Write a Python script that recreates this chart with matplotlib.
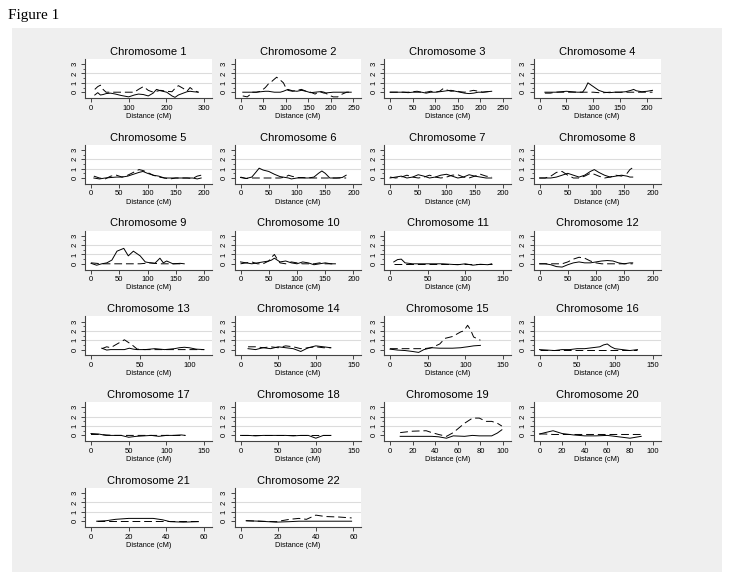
import matplotlib.pyplot as plt
from matplotlib.patches import Rectangle

plt.rcParams['font.family'] = ['Liberation Sans', 'DejaVu Sans']

FIG_W, FIG_H, DPI = 736, 579, 100

chromosomes = list(range(1, 23))
x_tick_max = [300, 250, 250, 200, 200, 200, 200, 200, 200, 200, 150, 200,
              100, 150, 150, 150, 150, 150, 100, 100, 60, 60]
x_tick_step = [100, 50, 50, 50, 50, 50, 50, 50, 50, 50, 50, 50,
               50, 50, 50, 50, 50, 50, 20, 20, 20, 20]

# distance (cM) per chromosome
distance = [
    [10, 18, 25, 32, 40, 52, 65, 80, 100, 115, 126, 139, 152, 165, 174, 185, 201, 215, 223, 232, 245, 255, 263, 272, 285],
    [5, 15, 20, 25, 35, 45, 55, 62, 68, 75, 80, 88, 95, 100, 105, 115, 125, 135, 145, 155, 165, 175, 185, 195, 205, 215, 225, 235, 245],
    [0, 10, 20, 30, 40, 50, 60, 70, 80, 90, 100, 110, 118, 125, 135, 145, 155, 165, 175, 185, 195, 205, 215, 225],
    [10, 20, 30, 40, 50, 60, 70, 80, 85, 90, 95, 100, 110, 120, 130, 140, 150, 160, 170, 175, 180, 190, 200, 210],
    [5, 15, 25, 35, 45, 55, 65, 75, 85, 92, 100, 110, 120, 130, 140, 150, 160, 170, 180, 188, 195],
    [0, 10, 20, 27, 33, 40, 50, 60, 70, 80, 85, 90, 100, 110, 120, 130, 138, 144, 150, 158, 170, 180, 187],
    [0, 10, 20, 30, 40, 50, 60, 70, 80, 90, 100, 110, 120, 130, 140, 150, 160, 170, 180],
    [0, 10, 20, 30, 40, 50, 60, 70, 80, 90, 97, 105, 115, 125, 135, 145, 155, 160, 165],
    [0, 10, 19, 28, 37, 46, 52, 58, 66, 75, 87, 96, 105, 113, 122, 128, 134, 145, 158, 165],
    [0, 10, 20, 30, 40, 50, 55, 60, 65, 70, 80, 90, 100, 110, 120, 130, 140, 150, 160, 168],
    [5, 10, 15, 20, 30, 40, 50, 60, 70, 80, 90, 100, 110, 120, 130, 135],
    [0, 10, 20, 30, 40, 50, 60, 70, 80, 90, 100, 110, 120, 130, 140, 150, 160, 165],
    [11, 16, 20, 24, 29, 34, 39, 43, 47, 55, 65, 75, 85, 90, 95, 100, 107, 115],
    [10, 20, 30, 40, 50, 60, 70, 80, 90, 100, 110, 120],
    [0, 10, 20, 30, 38, 45, 55, 66, 73, 83, 94, 98, 103, 107, 111, 120],
    [0, 10, 20, 30, 40, 50, 60, 70, 80, 85, 90, 95, 100, 110, 120, 130],
    [0, 10, 20, 30, 40, 50, 60, 70, 80, 90, 100, 110, 120, 125],
    [0, 10, 20, 30, 40, 50, 60, 70, 80, 90, 100, 110, 120],
    [9, 20, 32, 37, 43, 50, 56, 66, 73, 79, 85, 90, 95, 99],
    [0, 5, 12, 20, 30, 40, 50, 60, 70, 80, 90],
    [3, 8, 13, 20, 27, 33, 38, 42, 49, 57],
    [3, 10, 19, 26, 31, 35, 40, 45, 52, 59],
]

# solid line values
solid_score = [
    [-0.3, -0.05, -0.3, -0.25, -0.15, -0.1, -0.2, -0.35, -0.5, -0.3, -0.2, -0.25, -0.4, -0.1, 0.3, 0.15, 0, -0.4, -0.55, -0.3, -0.1, 0.05, 0.1, 0.05, 0],
    [0, 0, 0, 0, 0, 0.05, 0.1, 0.1, 0.05, 0, 0, 0, 0.1, 0.2, 0.3, 0.15, 0.1, 0.2, 0.1, -0.05, 0, 0.05, -0.1, -0.05, 0, 0, 0, 0, 0],
    [0, 0, 0, 0, -0.05, 0, 0, 0, -0.1, 0, 0, 0.05, 0.1, 0.15, 0.2, 0.1, 0, -0.1, -0.15, -0.1, 0, 0, 0.05, 0.1],
    [0, 0, 0, 0.05, 0.1, 0.05, 0, 0, 0.4, 1.0, 0.8, 0.6, 0.2, 0, -0.05, 0, 0, 0.05, 0.2, 0.3, 0.15, 0.05, 0.1, 0.2],
    [0, -0.1, 0, 0.05, 0.1, 0.1, 0.2, 0.4, 0.6, 0.7, 0.5, 0.3, 0.2, 0, 0, 0, 0, 0, 0, -0.1, 0],
    [0.05, -0.05, 0.1, 0.6, 1.05, 0.85, 0.7, 0.4, 0.15, 0.05, 0, -0.1, 0, 0, 0, 0.1, 0.5, 0.75, 0.5, 0, 0, 0.05, 0.3],
    [0, 0.1, 0.2, 0, 0.1, 0.35, 0.2, 0, 0.1, 0.3, 0.4, 0.2, 0, 0.1, 0.35, 0.2, 0.1, 0, 0],
    [0, 0, 0, 0.1, 0.3, 0.5, 0.3, 0.1, 0.3, 0.7, 0.9, 0.6, 0.3, 0.1, 0.2, 0.3, 0.2, 0.1, 0.1],
    [0.05, -0.15, 0, 0.1, 0.4, 1.35, 1.5, 1.65, 0.85, 1.35, 0.85, 0.2, 0.1, 0.05, 0.6, 0.1, 0.3, 0, 0.05, 0],
    [0.2, 0.1, 0, 0.1, 0.2, 0.3, 0.4, 0.6, 0.4, 0.2, 0.3, 0.1, 0, 0.2, 0.1, -0.1, 0, 0.1, 0, 0],
    [0.2, 0.45, 0.5, 0.1, 0, 0, 0, 0, 0, -0.05, -0.1, 0, -0.15, -0.05, -0.1, 0],
    [0, 0, -0.1, -0.3, -0.35, -0.1, 0.1, 0.2, 0.1, 0.1, 0.2, 0.3, 0.35, 0.3, 0.1, 0, 0.1, 0.1],
    [0.15, -0.05, 0, 0, 0, 0, 0.15, 0.05, 0, 0, 0.1, 0, 0.1, 0.2, 0.25, 0.2, 0.05, 0],
    [0.1, 0, 0.2, 0.1, 0.3, 0.2, 0.1, -0.2, 0.2, 0.4, 0.3, 0.2],
    [0.05, -0.05, -0.1, -0.2, -0.3, 0, 0.2, 0.15, 0.15, 0.15, 0.2, 0.25, 0.3, 0.35, 0.4, 0.45],
    [0, -0.05, -0.1, 0, 0, 0.1, 0.1, 0.2, 0.3, 0.5, 0.6, 0.3, 0.1, 0, -0.1, 0],
    [0.2, 0.15, 0, 0, 0, -0.2, -0.1, -0.05, 0, -0.1, 0, 0, 0.05, 0],
    [0, 0, -0.05, 0, 0, 0, 0, -0.05, 0, 0, -0.3, 0, 0],
    [-0.1, -0.1, -0.1, -0.1, -0.15, -0.3, -0.05, -0.1, 0, -0.05, -0.05, -0.05, 0.25, 0.6],
    [0.15, 0.3, 0.5, 0.2, 0.05, -0.05, -0.05, 0, -0.15, -0.3, -0.1],
    [0, 0.05, 0.2, 0.3, 0.3, 0.3, 0.15, -0.05, -0.1, -0.05],
    [0.05, 0, -0.1, -0.05, 0, 0, 0, 0, 0, 0],
]

# dashed line values
dashed_score = [
    [0.3, 0.6, 0.75, 0.3, 0, 0, 0, 0, 0, 0, 0.3, 0.6, 0.2, 0, 0.1, 0.2, 0.1, 0.05, 0.4, 0.7, 0.4, 0.1, 0.5, 0.2, 0],
    [-0.4, -0.5, -0.3, 0, 0, 0.1, 0.5, 0.9, 1.1, 1.4, 1.6, 1.3, 1.0, 0.5, 0.2, 0.1, 0.2, 0.3, 0.1, 0, -0.2, 0.1, 0, -0.3, -0.5, -0.5, -0.2, 0, 0],
    [0, 0, 0, 0, 0, 0.05, 0.1, 0, 0, 0.1, 0, 0.1, 0.4, 0.25, 0.1, 0.15, 0.05, 0, 0.1, 0.2, 0.1, 0, 0.05, 0.1],
    [-0.1, -0.1, 0, 0, 0, 0, 0, 0, 0, 0, 0, 0, -0.05, -0.05, 0, 0, 0, 0, 0, 0, 0, 0, 0, 0],
    [0.2, 0, -0.1, 0.2, 0.3, 0.1, 0.3, 0.6, 0.9, 0.8, 0.6, 0.3, 0.1, 0, -0.1, 0, 0, 0, -0.05, 0.2, 0.3],
    [0.1, -0.05, 0, 0, 0, 0, 0, 0, 0, 0.1, 0.3, 0.2, 0.05, 0.05, 0, 0, 0, 0, 0, 0, 0, 0, 0],
    [0.1, 0, 0.1, 0.3, 0.1, 0, 0.1, 0.3, 0.1, 0, 0.1, 0.3, 0.35, 0.1, 0, 0.2, 0.4, 0.2, 0.1],
    [0, 0, 0.2, 0.6, 0.7, 0.3, 0, 0, 0.2, 0.5, 0.4, 0.2, 0, 0.1, 0.3, 0.2, 0.5, 0.9, 1.1],
    [0.1, 0.05, 0, 0, 0, 0, 0, 0, 0, 0, 0, 0.05, 0.1, 0.05, 0, 0, 0, 0, 0, 0],
    [0, 0.1, 0.2, 0, 0, 0.3, 0.7, 1.0, 0.5, 0.1, 0, 0.2, 0.1, 0, 0, 0, 0.1, 0, 0, 0],
    [0, 0, 0, 0, 0, 0, 0, 0, 0, 0, 0, 0, 0, 0, 0, 0],
    [0, 0, 0, 0, 0, 0.2, 0.5, 0.7, 0.6, 0.3, 0.1, 0, 0, 0, 0, 0, 0, 0],
    [0.1, 0.3, 0.2, 0.45, 0.75, 1.05, 0.7, 0.4, 0.05, 0, 0, 0, 0, 0, 0, 0, 0, 0],
    [0.3, 0.3, 0.2, 0.3, 0.2, 0.4, 0.3, 0.1, 0.2, 0.3, 0.2, 0.2],
    [0.1, 0.1, 0.1, 0.1, 0.1, 0.1, 0.2, 0.6, 1.2, 1.4, 1.9, 2.0, 2.6, 2.1, 1.35, 1.0],
    [0, 0, 0, 0, 0, 0, 0, 0, 0, 0, 0, 0, 0, 0, 0, 0],
    [0.1, 0.1, 0.05, 0, 0, 0, 0, 0, 0, 0, 0, 0, 0, 0],
    [0, 0, 0, 0, 0, 0, 0, 0, 0, 0, 0, 0, 0],
    [0.3, 0.45, 0.5, 0.3, 0.1, -0.1, 0.3, 1.3, 1.85, 1.85, 1.5, 1.5, 1.3, 1.0],
    [0.15, 0.15, 0.1, 0.1, 0.1, 0.1, 0.1, 0.1, 0.1, 0.1, 0.1],
    [0, 0, 0, 0, 0, 0, 0, 0, 0, 0],
    [0.05, 0, -0.05, 0.2, 0.3, 0.2, 0.65, 0.5, 0.45, 0.35],
]

y_ticks = [0, 1, 2, 3]
y_minor = [0.5, 1.5, 2.5]


def px_rect(left, top, width, height):
    # pixel box (from top-left) -> figure fraction
    return [left / FIG_W, 1 - (top + height) / FIG_H, width / FIG_W, height / FIG_H]


def plot_chromosome(ax, idx):
    x = distance[idx]
    upper = max(x_tick_max[idx], max(x))
    ax.plot(x, solid_score[idx], color='black', lw=0.7, solid_joinstyle='round')
    ax.plot(x, dashed_score[idx], color='black', lw=0.7, dashes=(8, 4))

    ax.set_xlim(-upper * 6 / 113, upper * (1 + 8 / 113))
    ax.set_ylim(-0.62, 3.55)
    ax.set_xticks(range(0, x_tick_max[idx] + 1, x_tick_step[idx]))
    ax.set_yticks(y_ticks)
    ax.set_yticks(y_minor, minor=True)
    for g in (1, 2):
        ax.axhline(g, color='#dcdcdc', lw=0.8, zorder=0)

    for side in ('top', 'right'):
        ax.spines[side].set_visible(False)
    for side in ('left', 'bottom'):
        ax.spines[side].set_color('#444444')
        ax.spines[side].set_linewidth(0.8)
    ax.tick_params(axis='both', which='major', length=3, width=0.7, color='#444444',
                   labelsize=5.5, pad=1.8)
    ax.tick_params(axis='y', which='minor', length=1.8, width=0.6, color='#444444')
    ax.tick_params(axis='x', which='minor', bottom=False)
    for lbl in ax.get_yticklabels():
        lbl.set_rotation(90)
        lbl.set_va('center')

    ax.set_title(f'Chromosome {chromosomes[idx]}', fontsize=8, pad=3)
    ax.set_xlabel('Distance (cM)', fontsize=5.3, labelpad=0.8)


fig = plt.figure(figsize=(FIG_W / DPI, FIG_H / DPI), dpi=DPI)
fig.patch.set_facecolor('white')
# light grey graph region behind all panels
bg = fig.add_axes([0, 0, 1, 1], zorder=-10)
bg.set_xlim(0, FIG_W)
bg.set_ylim(FIG_H, 0)
bg.axis('off')
bg.add_patch(Rectangle((12, 28), 710, 544, facecolor='#efefef', edgecolor='none'))
fig.text(8 / FIG_W, 1 - 15 / FIG_H, 'Figure 1', fontsize=11, family='Liberation Serif',
         va='center', ha='left')

for i in range(len(chromosomes)):
    row, col = divmod(i, 4)
    ax = fig.add_axes(px_rect(85 + 149.5 * col, 59 + 85.8 * row, 127, 39))
    ax.set_facecolor('white')
    plot_chromosome(ax, i)

fig.savefig('out.png', dpi=DPI)
